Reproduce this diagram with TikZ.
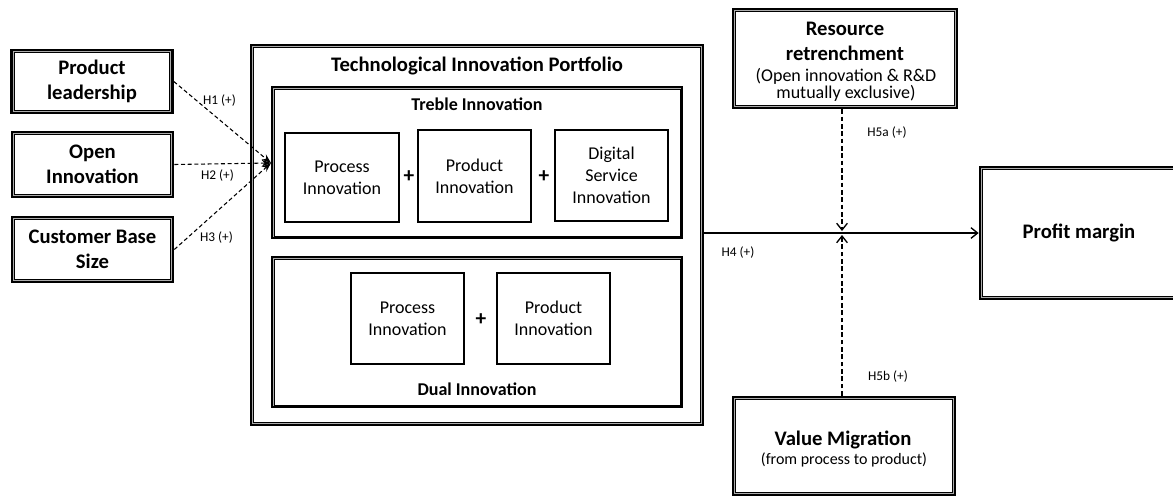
\documentclass[tikz,border=0pt]{standalone}
\usepackage{fontspec}
\setmainfont{Carlito}
\usetikzlibrary{arrows.meta}
\newcommand\hfont{\fontsize{15.5}{19}\selectfont\bfseries}
\newcommand\mfont{\fontsize{13.5}{16.5}\selectfont\bfseries}
\newcommand\rfont{\fontsize{13.5}{16.5}\selectfont}
\newcommand\subfont{\fontsize{13.5}{15}\selectfont}
\newcommand\vmfont{\fontsize{12}{14}\selectfont}
\newcommand\lfont{\fontsize{10}{12}\selectfont}
\begin{document}
\begin{tikzpicture}[x=0.75pt,y=-0.75pt,
  sz/.style 2 args={minimum width=#1*0.75pt, minimum height=#2*0.75pt, inner sep=0pt, align=center},
  dpic/.style={path picture={
    \draw[gray!65, line width=0.8pt] ([shift={(1.4pt,1.4pt)}]path picture bounding box.south west) rectangle ([shift={(-1.4pt,-1.4pt)}]path picture bounding box.north east);
    \draw[black, line width=0.55pt] ([shift={(2.1pt,2.1pt)}]path picture bounding box.south west) rectangle ([shift={(-2.1pt,-2.1pt)}]path picture bounding box.north east);
  }},
  dpicthin/.style={path picture={
    \draw[gray!65, line width=0.8pt] ([shift={(0.9pt,0.9pt)}]path picture bounding box.south west) rectangle ([shift={(-0.9pt,-0.9pt)}]path picture bounding box.north east);
    \draw[black, line width=0.55pt] ([shift={(1.6pt,1.6pt)}]path picture bounding box.south west) rectangle ([shift={(-1.6pt,-1.6pt)}]path picture bounding box.north east);
  }},
  dbox/.style={draw=black, line width=2pt, dpic},
  dboxthin/.style={draw=black, line width=0.9pt, dpicthin},
  sbox/.style={draw=black, line width=0.8pt},
  dashl/.style={draw=black, line width=0.8pt, dash pattern=on 3pt off 2pt},
  dashv/.style={draw=black, line width=1pt, dash pattern=on 3.5pt off 2pt},
  lab/.style={font=\lfont, inner sep=0pt},
  plus/.style={font=\fontsize{16}{18}\selectfont\bfseries, inner sep=0pt}
]
\useasboundingbox (0,0) rectangle (1173,496);
\clip (0,0) rectangle (1173,496);

% left boxes
\node[dbox, sz={161}{63}, font=\hfont] (PL) at (92,81.5) {Product\\leadership};
\node[dbox, sz={161}{65}, font=\hfont] (OI) at (92.5,164.5) {Open\\Innovation};
\node[dbox, sz={161}{65}, font=\hfont] (CB) at (92.5,249.5) {Customer Base\\Size};

% portfolio
\node[dbox, sz={452}{380}] (TIP) at (477,235) {};
\node[font=\hfont, anchor=base, inner sep=0pt] (TIPt) at (477,71) {Technological Innovation Portfolio};

\node[dboxthin, sz={410}{151}] (TRB) at (477,162.5) {};
\node[font=\mfont, anchor=base, inner sep=0pt] (TRBt) at (477,110) {Treble Innovation};
\node[sbox, sz={114}{89}, font=\rfont] (TP1) at (342,177.5) {Process\\Innovation};
\node[sbox, sz={113}{92}, font=\rfont] (TP2) at (474.5,176) {Product\\Innovation};
\node[sbox, sz={113}{91}, font=\rfont] (TP3) at (611.5,175.5) {Digital\\Service\\Innovation};
\node[plus] (p1) at (409,177) {+};
\node[plus] (p2) at (544,177) {+};

\node[dboxthin, sz={410}{150}] (DUAL) at (477,332) {};
\node[font=\mfont, anchor=base, inner sep=0pt] (DUALt) at (477,395) {Dual Innovation};
\node[sbox, sz={113}{91}, font=\rfont] (DP1) at (407.5,318.5) {Process\\Innovation};
\node[sbox, sz={113}{91}, font=\rfont] (DP2) at (553.5,318.5) {Product\\Innovation};
\node[plus] (p3) at (481,320) {+};

% right side
\node[dbox, sz={224}{99}] (RR) at (845,58.5) {};
\node[font=\hfont, anchor=base, inner sep=0pt] (RR1) at (845,35) {Resource};
\node[font=\hfont, anchor=base, inner sep=0pt] (RR2) at (845,60) {retrenchment};
\node[font=\subfont, anchor=base, inner sep=0pt] (RR3) at (846,81) {(Open innovation \& R\&D};
\node[font=\subfont, anchor=base, inner sep=0pt] (RR4) at (846,98) {mutually exclusive)};

\node[dbox, sz={206}{132}] (PM) at (1083,233) {};
\node[font=\hfont, inner sep=0pt] (PMt) at (1079,233) {Profit margin};

\node[dbox, sz={222}{98}] (VM) at (844,446) {};
\node[font=\hfont, anchor=base, inner sep=0pt] (VM1) at (843,445) {Value Migration};
\node[font=\vmfont, anchor=base, inner sep=0pt] (VM2) at (844,464) {(from process to product)};

% connectors
\coordinate (conv) at (271,163);
\draw[dashl, -{Stealth[length=7pt,width=5pt]}] (PL.east) -- (conv);
\draw[dashl, -{Stealth[length=7pt,width=5pt]}] (OI.east) -- (conv);
\draw[dashl, -{Stealth[length=7pt,width=5pt]}] (CB.east) -- (conv);

\draw[line width=1pt, -{Straight Barb[length=5pt,width=8pt,line width=1pt]}] (TIP.east |- PM.west) -- (PM.west);
\coordinate (mid) at (842,233);
\draw[dashv, -{Straight Barb[length=5pt,width=8pt,line width=1pt]}, shorten >=1.5pt] (mid |- RR.south) -- (mid);
\draw[dashv, -{Straight Barb[length=5pt,width=8pt,line width=1pt]}, shorten >=1.5pt] (mid |- VM.north) -- (mid);

% labels
\node[lab] (H1) at (219.5,100.5) {H1 (+)};
\node[lab] (H2) at (217.5,176) {H2 (+)};
\node[lab] (H3) at (216.5,237.5) {H3 (+)};
\node[lab] (H4) at (738,252.5) {H4 (+)};
\node[lab] (H5a) at (887,133) {H5a (+)};
\node[lab] (H5b) at (888,377) {H5b (+)};
\end{tikzpicture}
\end{document}
